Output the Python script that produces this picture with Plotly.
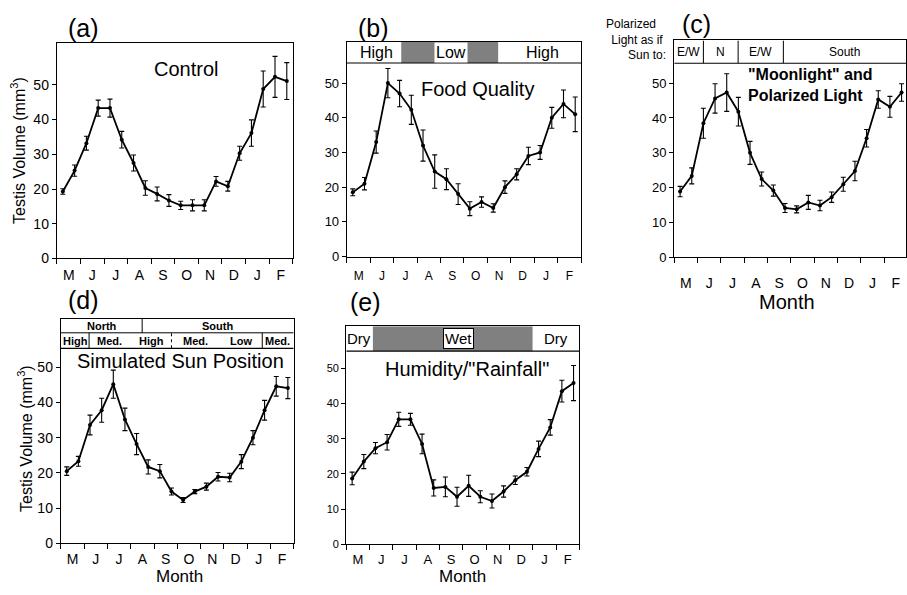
import plotly.graph_objects as go

# ---------------- data ----------------
months = ["M", "J", "J", "A", "S", "O", "N", "D", "J", "F"]
# sampling times, in months from 1 May (semi-monthly)
sample_month = [0.25, 0.75, 1.25, 1.75, 2.25, 2.75, 3.25, 3.75, 4.25, 4.75,
                5.25, 5.75, 6.25, 6.75, 7.25, 7.75, 8.25, 8.75, 9.25, 9.75]

control_mean = [19.3, 25.3, 33.2, 43.3, 43.3, 34.2, 27.5, 20.3, 18.6, 16.7,
                15.3, 15.3, 15.3, 22.2, 20.8, 30.3, 36.1, 48.8, 52.3, 51.1]
control_err = [0.8, 1.6, 2.0, 2.3, 2.6, 2.4, 2.3, 2.1, 2.0, 1.7,
               1.2, 1.6, 1.6, 1.4, 1.4, 2.0, 3.8, 5.2, 5.9, 5.3]

food_mean = [18.5, 21.0, 33.0, 50.0, 47.0, 42.3, 32.0, 24.5, 22.3, 18.0,
             13.8, 15.7, 14.0, 20.0, 23.7, 29.0, 30.0, 40.0, 44.0, 41.0]
food_err = [1.0, 1.8, 3.2, 4.2, 3.8, 4.2, 4.5, 4.8, 3.0, 3.0,
            2.0, 1.5, 1.2, 1.8, 1.6, 2.5, 2.0, 3.0, 4.0, 5.0]

moon_mean = [18.9, 23.4, 38.5, 45.6, 47.3, 41.8, 30.0, 22.5, 19.2, 14.2,
             13.8, 15.8, 14.9, 17.3, 21.0, 24.8, 34.2, 45.3, 43.2, 47.3]
moon_err = [1.5, 2.3, 4.3, 4.2, 5.4, 4.1, 3.3, 2.0, 1.6, 1.3,
            1.0, 2.0, 1.5, 1.5, 2.0, 2.8, 2.5, 2.5, 3.0, 2.5]

sun_mean = [20.5, 23.3, 33.6, 37.8, 45.2, 35.2, 28.2, 21.7, 20.5, 14.7,
            12.3, 14.7, 16.1, 18.9, 18.7, 23.2, 30.0, 37.8, 44.6, 44.1]
sun_err = [1.2, 1.4, 2.8, 3.4, 4.0, 3.2, 3.0, 2.0, 1.9, 1.0,
           0.7, 0.6, 1.0, 1.2, 1.2, 2.0, 2.0, 2.8, 2.8, 3.0]

rain_mean = [18.7, 23.5, 27.3, 29.0, 35.5, 35.5, 28.5, 16.0, 16.3, 13.5,
             16.6, 13.5, 12.3, 15.0, 18.2, 20.6, 27.1, 33.2, 43.5, 45.8]
rain_err = [1.8, 2.0, 1.6, 2.2, 2.0, 1.7, 2.8, 2.3, 2.8, 2.7,
            3.0, 1.7, 2.0, 1.6, 1.2, 1.2, 2.2, 2.2, 3.1, 5.0]

y_ticks = [0, 10, 20, 30, 40, 50]

# header bands: (start month, end month, label)
food_bands = [(0.0, 2.32, "High"), (2.32, 6.47, "Low"), (6.47, 10.0, "High")]
polar_bands = [(0.0, 1.25, "E/W"), (1.25, 2.74, "N"), (2.74, 4.68, "E/W"), (4.68, 10.0, "South")]
sun_dir_bands = [(0.0, 3.49, "North"), (3.49, 10.0, "South")]
sun_alt_bands = [(0.0, 1.21, "High"), (1.21, 3.0, "Med."), (3.0, 4.75, "High"),
                 (4.75, 6.8, "Med."), (6.8, 8.65, "Low"), (8.65, 10.0, "Med.")]
rain_bands = [(0.0, 1.14, "Dry"), (1.14, 8.0, "Wet"), (8.0, 10.0, "Dry")]

# ---------------- layout helpers ----------------
W, H = 907, 595
FONT = "Liberation Sans, Arial, sans-serif"
GREY = "#808080"


def px(x):
    return x / W


def py(y):
    return 1 - y / H


fig = go.Figure()

panels = [
    dict(key="", mean=control_mean, err=control_err, x0=57, x1=293, top=43.3, zero=262.0, ppu=3.52,
         yfs=14, xfs=14, xso=4, rng_x=10.0),
    dict(key="2", mean=food_mean, err=food_err, x0=347.3, x1=581.7, top=42.3, zero=260.0, ppu=3.515,
         yfs=13, xfs=12, xso=8, rng_x=10.0),
    dict(key="3", mean=moon_mean, err=moon_err, x0=675, x1=907, top=41.0, zero=261.0, ppu=3.535,
         yfs=13, xfs=14, xso=13, rng_x=9.94),
    dict(key="4", mean=sun_mean, err=sun_err, x0=61, x1=294, top=323.0, zero=550.7, ppu=3.568,
         yfs=14, xfs=14, xso=3, rng_x=10.0),
    dict(key="5", mean=rain_mean, err=rain_err, x0=346.7, x1=580, top=330.7, zero=551.7, ppu=3.568,
         yfs=11, xfs=13, xso=3, rng_x=10.0),
]

layout_axes = {}
for p in panels:
    k = p["key"]
    xa = "x" + k
    ya = "y" + k
    ytop = (p["zero"] - p["top"]) / p["ppu"]
    p["ytop"] = ytop
    fig.add_trace(go.Scatter(
        x=sample_month, y=p["mean"], xaxis=xa, yaxis=ya, mode="lines+markers",
        line=dict(color="black", width=1.8), marker=dict(color="black", size=4),
        error_y=dict(type="data", array=p["err"], color="black", thickness=1.1, width=2.5),
        showlegend=False, cliponaxis=False))
    layout_axes["xaxis" + k] = dict(
        domain=[px(p["x0"]), px(p["x1"])], range=[0, p["rng_x"]], anchor=ya,
        tickvals=[m + 0.5 for m in range(10)], ticktext=months, ticks="",
        ticklabelstandoff=p["xso"],
        tickfont=dict(family=FONT, size=p["xfs"], color="black"),
        minor=dict(tick0=0, dtick=1, ticks="outside", ticklen=5, tickcolor="black", tickwidth=1),
        showline=True, linecolor="black", linewidth=1, mirror=True,
        showgrid=False, zeroline=False, fixedrange=True)
    layout_axes["yaxis" + k] = dict(
        domain=[py(p["zero"]), py(p["top"])], range=[0, ytop], anchor=xa,
        tickvals=y_ticks, ticks="outside", ticklen=4, tickcolor="black",
        tickfont=dict(family=FONT, size=p["yfs"], color="black"),
        showline=True, linecolor="black", linewidth=1.4, mirror=True,
        showgrid=False, zeroline=False, fixedrange=True)

fig.update_layout(**layout_axes)

shapes = []
annotations = []


def band_text(xref, yref, xc, yc, text, size, bold=False, box=False, border=False):
    a = dict(x=xc, y=yc, xref=xref, yref=yref, text=("<b>%s</b>" % text) if bold else text,
             showarrow=False, font=dict(family=FONT, size=size, color="black"),
             xanchor="center", yanchor="middle")
    if box:
        a.update(bgcolor="white", borderpad=1)
    if border:
        a.update(bordercolor="black", borderwidth=1)
    annotations.append(a)


# ---- (b) food quality header
pb = panels[1]
hb0, hb1 = 55.8, pb["ytop"]
for s, e, lab in food_bands:
    shapes.append(dict(type="rect", xref="x2", yref="y2", x0=s, x1=e, y0=hb0, y1=hb1,
                       fillcolor=GREY if lab == "Low" else "white", line=dict(width=0), layer="below"))
shapes.append(dict(type="line", xref="x2", yref="y2", x0=0, x1=10, y0=hb0, y1=hb0,
                   line=dict(color="black", width=1.2)))
band_text("x2", "y2", 1.28, (hb0 + hb1) / 2, "High", 16)
band_text("x2", "y2", 4.45, (hb0 + hb1) / 2, "Low", 16, box=True)
band_text("x2", "y2", 8.36, (hb0 + hb1) / 2, "High", 16)

# ---- (c) polarized light header
pc = panels[2]
hc0, hc1 = 55.7, pc["ytop"]
shapes.append(dict(type="line", xref="x3", yref="y3", x0=0, x1=10, y0=hc0, y1=hc0,
                   line=dict(color="black", width=1.2)))
for s, e, lab in polar_bands:
    if s > 0:
        shapes.append(dict(type="line", xref="x3", yref="y3", x0=s, x1=s, y0=hc0, y1=hc1,
                           line=dict(color="black", width=1)))
    xc = (s + e) / 2 if lab != "South" else 7.3
    band_text("x3", "y3", xc, (hc0 + hc1) / 2, lab, 12)
annotations.append(dict(x=px(669), y=py(40), xref="paper", yref="paper",
                        text="Polarized&nbsp;&nbsp;&nbsp;<br>Light as if&nbsp;<br>Sun to:",
                        showarrow=False, align="right", xanchor="right", yanchor="middle",
                        font=dict(family=FONT, size=12, color="black")))

# ---- (d) sun position header (two rows)
pd_ = panels[3]
hd0, hdm, hd1 = 55.4, 59.8, pd_["ytop"]
shapes.append(dict(type="line", xref="x4", yref="y4", x0=0, x1=10, y0=hd0, y1=hd0,
                   line=dict(color="black", width=1.2)))
shapes.append(dict(type="line", xref="x4", yref="y4", x0=0, x1=10, y0=hdm, y1=hdm,
                   line=dict(color="black", width=1)))
for s, e, lab in sun_dir_bands:
    if s > 0:
        shapes.append(dict(type="line", xref="x4", yref="y4", x0=s, x1=s, y0=hdm, y1=hd1,
                           line=dict(color="black", width=1)))
    band_text("x4", "y4", (s + e) / 2, (hdm + hd1) / 2, lab, 11, bold=True)
for s, e, lab in sun_alt_bands:
    if s > 0 and s not in (3.0, 6.8):
        shapes.append(dict(type="line", xref="x4", yref="y4", x0=s, x1=s, y0=hd0, y1=hdm,
                           line=dict(color="black", width=1, dash="dot" if s == 4.75 else "solid")))
    band_text("x4", "y4", (s + e) / 2, (hd0 + hdm) / 2, lab, 11, bold=True)

# ---- (e) rainfall header
pe = panels[4]
he0, he1 = 54.9, pe["ytop"]
for s, e, lab in rain_bands:
    shapes.append(dict(type="rect", xref="x5", yref="y5", x0=s, x1=e, y0=he0, y1=he1,
                       fillcolor=GREY if lab == "Wet" else "white", line=dict(width=0), layer="below"))
shapes.append(dict(type="line", xref="x5", yref="y5", x0=0, x1=10, y0=he0, y1=he0,
                   line=dict(color="black", width=1.2)))
band_text("x5", "y5", 0.55, (he0 + he1) / 2, "Dry", 15)
band_text("x5", "y5", 4.8, (he0 + he1) / 2, "Wet", 15, box=True, border=True)
band_text("x5", "y5", 9.0, (he0 + he1) / 2, "Dry", 15)

# ---- panel letters and titles
for lab, x, y in [("(a)", 84, 28), ("(b)", 374, 28), ("(c)", 697, 24), ("(d)", 84, 304), ("(e)", 366, 306)]:
    annotations.append(dict(x=px(x), y=py(y), xref="paper", yref="paper", text=lab, showarrow=False,
                            font=dict(family=FONT, size=25, color="black"),
                            xanchor="center", yanchor="middle", borderpad=0))

for txt, x, y, size in [("Control", 186, 70, 20), ("Food Quality", 478, 90, 20),
                        ("Simulated Sun Position", 181, 366, 20), ("Humidity/\"Rainfall\"", 468, 374, 20)]:
    annotations.append(dict(x=px(x), y=py(y), xref="paper", yref="paper", text=txt, showarrow=False,
                            font=dict(family=FONT, size=size, color="black"),
                            xanchor="center", yanchor="middle"))
annotations.append(dict(x=px(811), y=py(86), xref="paper", yref="paper",
                        text="<b>\"Moonlight\" and<br>Polarized Light</b>", showarrow=False,
                        align="left", font=dict(family=FONT, size=16, color="black"),
                        xanchor="center", yanchor="middle"))

annotations.append(dict(x=px(788), y=py(294), xref="paper", yref="paper", text="Month", showarrow=False,
                        font=dict(family=FONT, size=20, color="black"), xanchor="center", yanchor="top",
                        borderpad=0))
for x in [180, 463]:
    annotations.append(dict(x=px(x), y=0, xref="paper", yref="paper", text="Month", showarrow=False,
                            font=dict(family=FONT, size=17, color="black"),
                            xanchor="center", yanchor="bottom", borderpad=0))

for x, y in [(18, 152), (25, 444)]:
    annotations.append(dict(x=px(x), y=py(y), xref="paper", yref="paper",
                            text="Testis Volume (mm<sup>3</sup>)", showarrow=False, textangle=-90,
                            font=dict(family=FONT, size=16, color="black"),
                            xanchor="center", yanchor="middle"))

fig.update_layout(
    width=W, height=H, margin=dict(l=0, r=0, t=0, b=0),
    paper_bgcolor="white", plot_bgcolor="white",
    shapes=shapes, annotations=annotations, showlegend=False,
)

fig.write_html("out.html", config={"displayModeBar": False},
               post_script="document.body.style.margin='0';document.body.style.overflow='hidden';")
